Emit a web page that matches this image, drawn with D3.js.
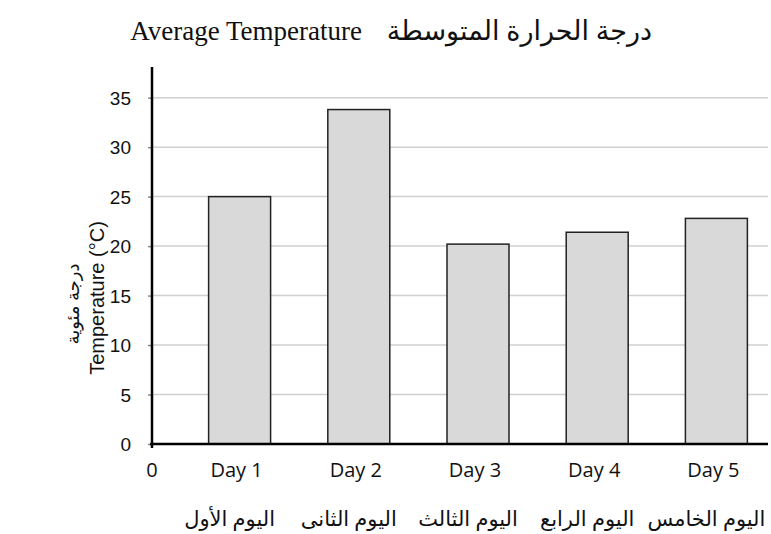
<!DOCTYPE html>
<html lang="en">
<head>
  <meta charset="UTF-8">
  <title>Average Temperature</title>
  <script src="https://d3js.org/d3.v7.min.js"></script>
  <style>
    body { margin: 0; background: #fff; }
    .grid line { stroke: #d0d0d0; stroke-width: 1.5px; }
    .bar { fill: #d9d9d9; stroke: #222; stroke-width: 1.5px; }
    .xlab { font: 20px "Open Sans", Lato, sans-serif; fill: #111; }
    .arab { font-family: "Times New Roman", "Liberation Serif", "DejaVu Sans", serif; fill: #111; }
  </style>
</head>
<body>
<div id="chart"></div>
<script>
  // data
  var days = ["Day 1", "Day 2", "Day 3", "Day 4", "Day 5"];
  var daysAr = ["اليوم الأول", "اليوم الثانى", "اليوم الثالث", "اليوم الرابع", "اليوم الخامس"];
  var temps = [25, 33.8, 20.2, 21.4, 22.8];
  var yTicks = [0, 5, 10, 15, 20, 25, 30, 35];
  var yMax = 38.1;

  var W = 771, H = 534;
  var mLeft = 152, mRight = 768, mTop = 67, mBottom = 444;

  var svg = d3.select("#chart").append("svg")
    .attr("width", W)
    .attr("height", H);

  var x = d3.scaleBand()
    .domain(days)
    .range([180, 776])
    .paddingInner(0.48)
    .paddingOuter(0.24);

  var y = d3.scaleLinear()
    .domain([0, yMax])
    .range([mBottom, mTop]);

  // gridlines
  svg.append("g").attr("class", "grid")
    .selectAll("line")
    .data(yTicks.filter(function (d) { return d > 0; }))
    .join("line")
    .attr("x1", mLeft).attr("x2", mRight)
    .attr("y1", function (d) { return y(d); })
    .attr("y2", function (d) { return y(d); });

  // bars
  svg.selectAll("rect.bar")
    .data(temps)
    .join("rect")
    .attr("class", "bar")
    .attr("x", function (d, i) { return x(days[i]); })
    .attr("width", x.bandwidth())
    .attr("y", function (d) { return y(d); })
    .attr("height", function (d) { return y(0) - y(d); });

  // y axis
  var yAxis = svg.append("g")
    .attr("transform", "translate(" + mLeft + ",0)")
    .call(d3.axisLeft(y).tickValues(yTicks).tickSize(4).tickPadding(17));
  yAxis.select(".domain").remove();
  yAxis.attr("font-size", 19).attr("font-family", "'Liberation Sans', Arial, sans-serif");
  yAxis.selectAll(".tick line").attr("stroke", "#888").attr("stroke-width", 1.5);
  yAxis.selectAll("text").attr("fill", "#111").attr("dy", "0.36em");

  // axis lines
  svg.append("line")
    .attr("x1", mLeft).attr("x2", mLeft)
    .attr("y1", mTop).attr("y2", mBottom + 4)
    .attr("stroke", "#000").attr("stroke-width", 2.5);
  svg.append("line")
    .attr("x1", mLeft - 2).attr("x2", mRight)
    .attr("y1", mBottom).attr("y2", mBottom)
    .attr("stroke", "#000").attr("stroke-width", 2.5);

  // x labels
  svg.append("text").attr("class", "xlab")
    .attr("x", mLeft).attr("y", 477)
    .attr("text-anchor", "middle")
    .text("0");

  svg.selectAll("text.day")
    .data(days)
    .join("text")
    .attr("class", "xlab day")
    .attr("x", function (d) { return x(d) + x.bandwidth() / 2 - 3; })
    .attr("y", 477)
    .attr("text-anchor", "middle")
    .text(function (d) { return d; });

  svg.selectAll("text.dayar")
    .data(daysAr)
    .join("text")
    .attr("class", "arab dayar")
    .attr("font-size", 21)
    .attr("x", function (d, i) { return x(days[i]) + x.bandwidth() / 2 - 10; })
    .attr("y", 526)
    .attr("text-anchor", "middle")
    .text(function (d) { return d; });

  // title
  svg.append("text")
    .attr("x", 362).attr("y", 40)
    .attr("text-anchor", "end")
    .attr("font-family", "'Times New Roman', 'Liberation Serif', serif")
    .attr("font-size", 27)
    .attr("fill", "#111")
    .text("Average Temperature");
  svg.append("text")
    .attr("class", "arab")
    .attr("x", 652).attr("y", 40)
    .attr("text-anchor", "end")
    .attr("font-size", 27)
    .text("درجة الحرارة المتوسطة");

  // y titles
  svg.append("text")
    .attr("transform", "translate(104,298) rotate(-90)")
    .attr("text-anchor", "middle")
    .attr("font-family", "'Liberation Sans', Arial, sans-serif")
    .attr("font-size", 20)
    .attr("fill", "#111")
    .text("Temperature (°C)");
  svg.append("text")
    .attr("class", "arab")
    .attr("transform", "translate(79,304) rotate(-90)")
    .attr("text-anchor", "middle")
    .attr("font-size", 18)
    .text("درجة مئوية");
</script>
</body>
</html>
